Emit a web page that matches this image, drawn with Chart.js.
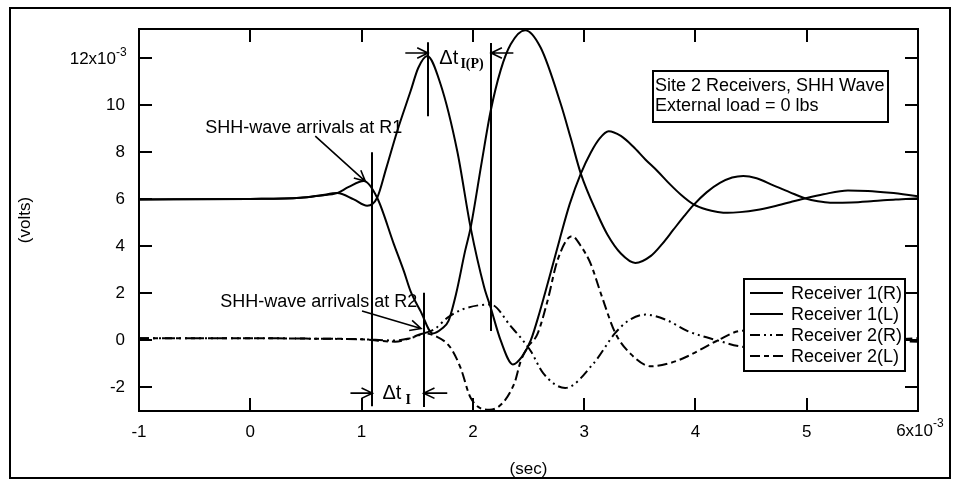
<!DOCTYPE html>
<html><head><meta charset="utf-8">
<script src="https://cdn.jsdelivr.net/npm/chart.js@4.4.0/dist/chart.umd.min.js"></script>
<style>html,body{margin:0;padding:0;background:#fff;}#wrap{width:953px;height:480px;}</style>
</head><body><div id="wrap"><canvas id="c" width="953" height="480"></canvas></div>
<script>
// ---- data (time in 10^-3 s, voltage in 10^-3 V) ----
const seriesNames = ['Receiver 1(R)', 'Receiver 1(L)', 'Receiver 2(R)', 'Receiver 2(L)'];
const time_R1R = [-1, 0, 0.45, 0.63, 0.78, 0.93, 1.05, 1.14, 1.22, 1.32, 1.44, 1.51, 1.59, 1.71, 1.86, 1.98, 2.1, 2.16, 2.25, 2.36, 2.44, 2.52, 2.6, 2.7, 2.78, 2.87, 2.97, 3.06, 3.14, 3.22, 3.33, 3.44, 3.55, 3.66, 3.77, 3.87, 3.98, 4.1, 4.2, 4.29, 4.4, 4.55, 4.7, 4.85, 4.99, 5.15, 5.37, 5.55, 5.75, 6.0];
const volt_R1R = [6.0, 6.02, 6.07, 6.17, 6.27, 6.0, 5.73, 6.07, 7.3, 8.9, 10.6, 11.6, 12.1, 10.9, 8.05, 4.8, 2.3, 1.4, 0.0, -1.02, -0.7, 0.0, 1.2, 2.9, 4.3, 5.8, 7.1, 8.0, 8.6, 8.9, 8.7, 8.25, 7.7, 7.2, 6.65, 6.2, 5.8, 5.57, 5.47, 5.43, 5.46, 5.55, 5.7, 5.88, 6.05, 6.22, 6.38, 6.36, 6.28, 6.14];
const time_R1L = [-1, 0, 0.45, 0.63, 0.78, 0.88, 1.02, 1.14, 1.29, 1.38, 1.44, 1.53, 1.64, 1.72, 1.78, 1.85, 1.93, 1.98, 2.08, 2.16, 2.25, 2.34, 2.47, 2.61, 2.79, 2.88, 2.97, 3.12, 3.21, 3.33, 3.46, 3.6, 3.7, 3.8, 3.9, 3.98, 4.1, 4.22, 4.33, 4.43, 4.55, 4.7, 4.85, 4.99, 5.1, 5.21, 5.4, 5.6, 5.8, 6.0];
const volt_R1L = [6.0, 6.02, 6.07, 6.17, 6.27, 6.52, 6.78, 6.07, 4.1, 2.95, 2.1, 1.25, 0.3, 0.5, 0.82, 2.0, 3.8, 4.8, 7.6, 9.76, 11.5, 12.6, 13.2, 12.45, 10.06, 8.6, 7.1, 5.37, 4.5, 3.7, 3.3, 3.6, 4.1, 4.7, 5.3, 5.75, 6.3, 6.7, 6.93, 7.0, 6.9, 6.6, 6.3, 6.04, 5.92, 5.86, 5.87, 5.93, 6.0, 6.05];
const time_R2R = [-1, 0, 0.5, 1.0, 1.3, 1.44, 1.56, 1.66, 1.77, 1.91, 2.16, 2.34, 2.52, 2.63, 2.83, 3.08, 3.28, 3.4, 3.55, 3.75, 3.93, 4.2, 4.4, 4.7, 5.2, 5.6, 6.0];
const volt_R2R = [0.1, 0.1, 0.08, 0.05, 0.0, 0.1, 0.3, 0.5, 0.96, 1.33, 1.53, 0.61, -0.45, -1.38, -2.02, -1.0, 0.32, 0.85, 1.1, 0.85, 0.4, 0.0, -0.25, -0.35, -0.15, 0.0, -0.05];
const time_R2L = [-1, 0, 0.5, 1.0, 1.3, 1.44, 1.56, 1.66, 1.8, 1.89, 1.98, 2.15, 2.37, 2.43, 2.49, 2.58, 2.67, 2.76, 2.89, 2.98, 3.06, 3.15, 3.28, 3.42, 3.6, 3.78, 3.93, 4.2, 4.4, 4.7, 5.2, 5.6, 6.0];
const volt_R2L = [0.1, 0.1, 0.08, 0.05, -0.05, 0.1, 0.3, 0.2, -0.31, -1.17, -2.44, -2.95, -1.86, -0.88, -0.3, 0.27, 1.67, 3.4, 4.44, 3.95, 3.25, 2.0, 0.32, -0.58, -1.1, -0.95, -0.67, 0.0, 0.4, 0.45, 0.2, 0.0, 0.1];
const xTickValues = [-1, 0, 1, 2, 3, 4, 5, 6];
const yTickValues = [-2, 0, 2, 4, 6, 8, 10, 12];

// ---- annotations in data units ----
const markerLines = [[1.097, 8.01, -2.8], [1.597, 12.69, 9.54], [2.164, 12.65, 0.4], [1.558, 2.03, -2.83]];
const arrows = [[1.393, 12.23, 1.597, 12.23], [2.364, 12.23, 2.164, 12.23], [0.9, -2.24, 1.097, -2.24], [1.77, -2.24, 1.558, -2.24], [0.584, 8.69, 1.034, 6.77], [1.004, 1.25, 1.534, 0.51]];
const notes = [['SHH-wave arrivals at R1', -0.404, 9.03], ['SHH-wave arrivals at R2', -0.27, 1.64]];
const infoLines = ['Site 2 Receivers, SHH Wave', 'External load = 0 lbs'];

const F = "'Liberation Sans', Arial, sans-serif";
const FS = "'Liberation Serif', 'Times New Roman', serif";
function pts(t, v) { return t.map((x, i) => ({ x: x, y: v[i] })); }
const dashes = [[], [], [10, 4, 2, 4, 2, 4], [10, 4, 5, 4]];

function arrow(ctx, x1, y1, x2, y2, len) {
  const a = Math.atan2(y2 - y1, x2 - x1), w = 0.45;
  ctx.beginPath();
  ctx.moveTo(x1, y1); ctx.lineTo(x2, y2);
  ctx.moveTo(x2 - len * Math.cos(a - w), y2 - len * Math.sin(a - w));
  ctx.lineTo(x2, y2);
  ctx.lineTo(x2 - len * Math.cos(a + w), y2 - len * Math.sin(a + w));
  ctx.stroke();
}

const framePlugin = {
  id: 'frame',
  afterDraw(chart) {
    const { ctx, chartArea: ca } = chart;
    const xs = chart.scales.x, ys = chart.scales.y;
    const X = v => xs.getPixelForValue(v), Y = v => ys.getPixelForValue(v);
    ctx.save();
    ctx.strokeStyle = '#000'; ctx.fillStyle = '#000'; ctx.lineWidth = 2;
    // outer frame & plot border
    ctx.strokeRect(10, 8, 940, 470);
    ctx.strokeRect(ca.left, ca.top, ca.right - ca.left, ca.bottom - ca.top);
    // inward ticks on all four sides
    const TL = 13;
    ctx.beginPath();
    xTickValues.forEach(v => { const p = Math.round(X(v)); ctx.moveTo(p, ca.bottom); ctx.lineTo(p, ca.bottom - TL); ctx.moveTo(p, ca.top); ctx.lineTo(p, ca.top + TL); });
    yTickValues.forEach(v => { const p = Math.round(Y(v)); ctx.moveTo(ca.left, p); ctx.lineTo(ca.left + TL, p); ctx.moveTo(ca.right, p); ctx.lineTo(ca.right - TL, p); });
    ctx.stroke();
    // exponent tick labels
    ctx.textBaseline = 'middle';
    const yTop = yTickValues[yTickValues.length - 1], xEnd = xTickValues[xTickValues.length - 1];
    ctx.font = '17px ' + F; ctx.textAlign = 'right';
    ctx.fillText(yTop + 'x10', ca.left - 23, Y(yTop) + 1);
    ctx.fillText(xEnd + 'x10', X(xEnd) + 15, ca.bottom + 20);
    ctx.font = '12px ' + F; ctx.textAlign = 'left';
    ctx.fillText('-3', ca.left - 23, Y(yTop) - 6);
    ctx.fillText('-3', X(xEnd) + 15, ca.bottom + 13);
    // marker lines
    ctx.beginPath();
    markerLines.forEach(m => { const p = Math.round(X(m[0])); ctx.moveTo(p, Y(m[1])); ctx.lineTo(p, Y(m[2])); });
    ctx.stroke();
    ctx.lineWidth = 1.6;
    arrows.forEach(a => arrow(ctx, X(a[0]), Y(a[1]), X(a[2]), Y(a[3]), 12));
    // notes
    ctx.font = '18px ' + F; ctx.textAlign = 'left';
    notes.forEach(n => ctx.fillText(n[0], X(n[1]), Y(n[2])));
    // delta t labels
    ctx.font = '20px ' + F;
    ctx.fillText('\u0394t', X(1.699), Y(12.0));
    ctx.fillText('\u0394t', X(1.187), Y(-2.27));
    ctx.font = 'bold 14px ' + FS;
    ctx.fillText('I(P)', X(1.888), Y(11.75));
    ctx.fillText('I', X(1.395), Y(-2.55));
    // info box
    ctx.lineWidth = 2;
    const ib = { x: 653, y: 71, w: 235, h: 51 };
    ctx.fillStyle = '#fff'; ctx.fillRect(ib.x, ib.y, ib.w, ib.h); ctx.strokeRect(ib.x, ib.y, ib.w, ib.h);
    ctx.fillStyle = '#000'; ctx.font = '18px ' + F;
    infoLines.forEach((t, i) => ctx.fillText(t, ib.x + 2, ib.y + 15 + i * 20));
    // legend
    const lg = { x: 744, y: 279, w: 161, h: 92 };
    ctx.fillStyle = '#fff'; ctx.fillRect(lg.x, lg.y, lg.w, lg.h); ctx.strokeRect(lg.x, lg.y, lg.w, lg.h);
    ctx.fillStyle = '#000';
    chart.data.datasets.forEach((ds, i) => {
      const yy = lg.y + 14 + i * 21;
      ctx.setLineDash(ds.borderDash || []);
      ctx.beginPath(); ctx.moveTo(lg.x + 6, yy); ctx.lineTo(lg.x + 39, yy); ctx.stroke();
      ctx.setLineDash([]);
      ctx.fillText(ds.label, lg.x + 47, yy + 1);
    });
    ctx.restore();
  }
};

const datasets = [[time_R1R, volt_R1R], [time_R1L, volt_R1L], [time_R2R, volt_R2R], [time_R2L, volt_R2L]].map((s, i) => ({
  label: seriesNames[i], data: pts(s[0], s[1]), borderColor: '#000', borderWidth: 2,
  pointRadius: 0, fill: false, cubicInterpolationMode: 'monotone', borderDash: dashes[i]
}));

new Chart(document.getElementById('c'), {
  type: 'line',
  data: { datasets: datasets },
  options: {
    responsive: false, animation: false, devicePixelRatio: 1,
    layout: { padding: { left: 0, top: 29, right: 35, bottom: 0 } },
    plugins: { legend: { display: false }, tooltip: { enabled: false } },
    scales: {
      x: {
        type: 'linear', min: -1, max: 6,
        afterFit: s => { s.height = 69; },
        afterBuildTicks: s => { s.ticks = xTickValues.map(v => ({ value: v })); },
        ticks: { font: { family: F, size: 17 }, color: '#000', padding: 3, maxRotation: 0, autoSkip: false,
          callback: v => v === xTickValues[xTickValues.length - 1] ? '' : String(v) },
        grid: { display: false }, border: { display: false },
        title: { display: true, text: '(sec)', font: { family: F, size: 17 }, color: '#000', padding: { top: 0, bottom: 0 } }
      },
      y: {
        type: 'linear', min: -3, max: 13.25,
        afterFit: s => { s.width = 139; },
        afterBuildTicks: s => { s.ticks = yTickValues.map(v => ({ value: v })); },
        ticks: { font: { family: F, size: 17 }, color: '#000', padding: 6, autoSkip: false,
          callback: v => v === yTickValues[yTickValues.length - 1] ? '' : String(v) },
        grid: { display: false }, border: { display: false },
        title: { display: true, text: '(volts)', font: { family: F, size: 17 }, color: '#000', padding: { top: 15, bottom: 0 } }
      }
    }
  },
  plugins: [framePlugin]
});
</script></body></html>
